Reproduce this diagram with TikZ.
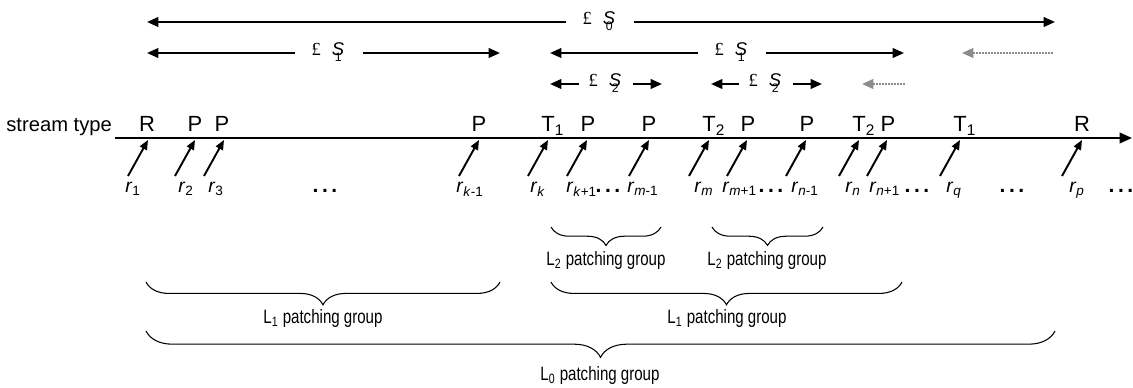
\documentclass[tikz,border=0pt]{standalone}
\usepackage{fontspec}
\setmainfont{Liberation Sans}
\newfontfamily\narrowfont[FakeStretch=0.78]{Liberation Sans}
\newfontfamily\serifont{Liberation Serif}
\usetikzlibrary{arrows.meta,decorations.pathreplacing}
\newcommand{\dlab}[1]{{\serifont £}\hspace{0.6em}\textit{S}\kern-0.5em\raisebox{-0.55ex}{\fontsize{7}{8}\selectfont #1}\kern0.25em}
\newcommand{\rr}[1]{\textit{r}\textsubscript{#1}}
\begin{document}
\begin{tikzpicture}[x=0.02cm,y=-0.02cm,
  lspan/.style={line width=1.2pt,-{Triangle[length=6.5pt,width=5.5pt]}},
  ghost/.style={draw=black!45,line width=1.2pt,dash pattern=on 1.2pt off 0.5pt,-{Triangle[length=6.5pt,width=5.5pt]}},
  evt/.style={line width=1.1pt,-{Triangle[length=5.5pt,width=4.5pt]}},
  axisline/.style={line width=1.2pt,-{Triangle[length=7pt,width=6pt]}},
  dlabel/.style={font=\fontsize{10.5}{12}\selectfont,inner sep=0pt,inner xsep=9pt,minimum height=10pt},
  dlabelsm/.style={font=\fontsize{10.5}{12}\selectfont,inner sep=0pt,inner xsep=5pt,minimum height=10pt},
  typ/.style={font=\fontsize{12.5}{14}\selectfont,inner sep=0pt,anchor=base},
  typT/.style={font=\fontsize{12.5}{14}\selectfont,inner sep=0pt,anchor=base west},
  rl/.style={font=\fontsize{11}{12}\selectfont,inner sep=0pt,anchor=base west},
  dots/.style={font=\bfseries\fontsize{12}{12}\selectfont,inner sep=0pt,anchor=base},
  grp/.style={font=\narrowfont\fontsize{11}{12}\selectfont,inner sep=1pt},
  br/.style={decorate,decoration={brace,mirror,amplitude=#1},line width=0.6pt}
]
\useasboundingbox (0,0) rectangle (1133,388);

% ---- top dimension arrows
\node[dlabel] (d0) at (600,21) {\dlab{0}};
\coordinate (d0l) at (147,22); \coordinate (d0r) at (1055,22);
\draw[lspan] (d0.west |- d0l) -- (d0l);
\draw[lspan] (d0.east |- d0r) -- (d0r);

\node[dlabel] (d1a) at (329,52) {\dlab{1}};
\coordinate (d1al) at (147,53); \coordinate (d1ar) at (500,53);
\draw[lspan] (d1a.west |- d1al) -- (d1al);
\draw[lspan] (d1a.east |- d1ar) -- (d1ar);

\node[dlabel] (d1b) at (732,52) {\dlab{1}};
\coordinate (d1bl) at (550,53); \coordinate (d1br) at (904,53);
\draw[lspan] (d1b.west |- d1bl) -- (d1bl);
\draw[lspan] (d1b.east |- d1br) -- (d1br);

\coordinate (g1s) at (1053,53); \coordinate (g1e) at (962,53);
\draw[ghost] (g1s) -- (g1e);

\node[dlabelsm] (d2a) at (606,83) {\dlab{2}};
\coordinate (d2al) at (550,84); \coordinate (d2ar) at (662,84);
\draw[lspan] (d2a.west |- d2al) -- (d2al);
\draw[lspan] (d2a.east |- d2ar) -- (d2ar);

\node[dlabelsm] (d2b) at (766,83) {\dlab{2}};
\coordinate (d2bl) at (711,84); \coordinate (d2br) at (822,84);
\draw[lspan] (d2b.west |- d2bl) -- (d2bl);
\draw[lspan] (d2b.east |- d2br) -- (d2br);

\coordinate (g2s) at (905,84); \coordinate (g2e) at (862,84);
\draw[ghost] (g2s) -- (g2e);

% ---- stream type row
\node[font=\fontsize{11.5}{14}\selectfont,inner sep=0pt,anchor=base west] (st) at (6,132) {stream type};
\node[typ] (s1) at (147,132) {R};
\node[typ] (s2) at (195,132) {P};
\node[typ] (s3) at (222,132) {P};
\node[typ] (s4) at (479,132) {P};
\node[typT] (s5) at (541,132) {T\textsubscript{1}};
\node[typ] (s6) at (588,132) {P};
\node[typ] (s7) at (649,132) {P};
\node[typT] (s8) at (702,132) {T\textsubscript{2}};
\node[typ] (s9) at (748,132) {P};
\node[typ] (s10) at (807,132) {P};
\node[typT] (s11) at (852,132) {T\textsubscript{2}};
\node[typ] (s12) at (888,132) {P};
\node[typT] (s13) at (953,132) {T\textsubscript{1}};
\node[typ] (s14) at (1082,132) {R};

% ---- time axis
\coordinate (a0) at (115,138); \coordinate (a1) at (1132,138);
\draw[axisline] (a0) -- (a1);

% ---- request arrows
\foreach \x/\n in {148/1,195/2,224/3,479/4,548/5,587/6,649/7,709/8,747/9,806/10,859/11,887/12,960/13,1082/14}{
  \coordinate (tip\n) at (\x,140);
  \coordinate (tail\n) at (\x-20,176);
  \draw[evt] (tail\n) -- (tip\n);
}

% ---- request labels
\node[rl] (r1) at (125,193) {\rr{1}};
\node[rl] (r2) at (178,193) {\rr{2}};
\node[rl] (r3) at (208,193) {\rr{3}};
\node[rl] (r4) at (456,193) {\rr{\textit{k}-1}};
\node[rl] (r5) at (530,193) {\rr{\textit{k}}};
\node[rl] (r6) at (566,193) {\rr{\textit{k}+1}};
\node[rl] (r7) at (627,193) {\rr{\textit{m}-1}};
\node[rl] (r8) at (694,193) {\rr{\textit{m}}};
\node[rl] (r9) at (722,193) {\rr{\textit{m}+1}};
\node[rl] (r10) at (791,193) {\rr{\textit{n}-1}};
\node[rl] (r11) at (845,193) {\rr{\textit{n}}};
\node[rl] (r12) at (869,193) {\rr{\textit{n}+1}};
\node[rl] (r13) at (946,193) {\rr{\textit{q}}};
\node[rl] (r14) at (1069,193) {\rr{\textit{p}}};

\node[dots] (dt1) at (325,193) {.\,.\,.};
\node[dots] (dt2) at (608,193) {.\,.\,.};
\node[dots] (dt3) at (771,193) {.\,.\,.};
\node[dots] (dt4) at (917,193) {.\,.\,.};
\node[dots] (dt5) at (1012,193) {.\,.\,.};
\node[dots] (dt6) at (1121,193) {.\,.\,.};

% ---- patching group braces
\coordinate (b2al) at (551,227); \coordinate (b2ar) at (661,227);
\draw[br=10.5pt] (b2al) -- (b2ar);
\node[grp] (g2a) at (606,261) {L\textsubscript{2} patching group};
\coordinate (b2bl) at (712,227); \coordinate (b2br) at (823,227);
\draw[br=10.5pt] (b2bl) -- (b2br);
\node[grp] (g2b) at (767,261) {L\textsubscript{2} patching group};

\coordinate (b1al) at (146,282); \coordinate (b1ar) at (500,282);
\draw[br=13pt] (b1al) -- (b1ar);
\node[grp] (g1a) at (323,319) {L\textsubscript{1} patching group};
\coordinate (b1bl) at (551,282); \coordinate (b1br) at (902,282);
\draw[br=13pt] (b1bl) -- (b1br);
\node[grp] (g1b) at (727,319) {L\textsubscript{1} patching group};

\coordinate (b0l) at (146,331); \coordinate (b0r) at (1055,331);
\draw[br=15pt] (b0l) -- (b0r);
\node[grp] (g0) at (600,376) {L\textsubscript{0} patching group};
\end{tikzpicture}
\end{document}
